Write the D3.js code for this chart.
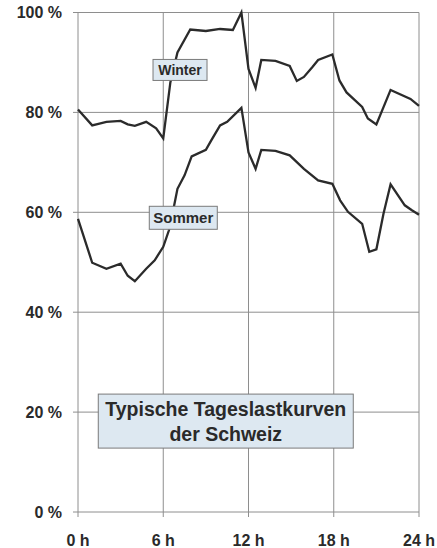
<!DOCTYPE html>
<html>
<head>
<meta charset="utf-8">
<script src="https://cdn.jsdelivr.net/npm/d3@7"></script>
<style>
  html, body { margin: 0; padding: 0; background: #fff; }
  svg { display: block; }
  text { font-family: "Liberation Sans", Arial, sans-serif; font-weight: bold; fill: #2a2a2a; }
</style>
</head>
<body>
<div id="chart"></div>
<script>
// ---- data ----
const xTicks = [0, 6, 12, 18, 24];
const xTickLabels = ["0 h", "6 h", "12 h", "18 h", "24 h"];
const yTicks = [0, 20, 40, 60, 80, 100];
const yTickLabels = ["0 %", "20 %", "40 %", "60 %", "80 %", "100 %"];

const winterHours  = [0, 1, 2, 3, 3.5, 4, 4.8, 5.5, 6, 6.5, 7, 7.9, 9, 10, 10.9, 11.5, 12, 12.5, 12.9, 13.9, 14.9, 15.4, 15.9, 16.5, 16.9, 17.9, 18.4, 18.9, 20, 20.4, 21, 22, 23.4, 24];
const winterValues = [80.6, 77.4, 78.1, 78.3, 77.6, 77.3, 78.1, 76.8, 74.8, 86.0, 92.0, 96.6, 96.3, 96.7, 96.5, 100, 88.7, 84.9, 90.5, 90.3, 89.3, 86.3, 87.1, 89.1, 90.5, 91.6, 86.4, 84.0, 81.1, 78.8, 77.6, 84.5, 82.7, 81.3];

const sommerHours  = [0, 1, 2, 3, 3.5, 4, 4.8, 5.4, 6, 6.4, 6.7, 7, 7.5, 8, 9, 9.4, 10, 10.5, 11.5, 12, 12.5, 12.9, 13.9, 14.9, 15.9, 16.9, 17.9, 18.45, 19, 20, 20.5, 21, 21.5, 22, 23, 23.5, 24];
const sommerValues = [58.7, 49.9, 48.7, 49.7, 47.3, 46.2, 48.7, 50.4, 53.1, 56.4, 60.4, 64.7, 67.4, 71.2, 72.5, 74.5, 77.4, 78.1, 80.9, 72.0, 68.7, 72.5, 72.3, 71.4, 68.7, 66.4, 65.7, 62.4, 60.1, 57.7, 52.1, 52.6, 59.7, 65.6, 61.4, 60.4, 59.5];

const seriesLabels = ["Winter", "Sommer"];
const titleLines = ["Typische Tageslastkurven", "der Schweiz"];

// ---- chart ----
const W = 437, H = 548;
const svg = d3.select("#chart").append("svg").attr("width", W).attr("height", H);
svg.append("rect").attr("width", W).attr("height", H).attr("fill", "#fff");

const x = d3.scaleLinear().domain([0, 24]).range([78, 419]);
const y = d3.scaleLinear().domain([0, 100]).range([512, 12.5]);

const gridColor = "#8e8e8e";

// horizontal grid + left ticks
svg.append("g").selectAll("line").data(yTicks).join("line")
  .attr("x1", x(0) - 5).attr("x2", x(24))
  .attr("y1", d => y(d)).attr("y2", d => y(d))
  .attr("stroke", gridColor).attr("stroke-width", 1);

// vertical grid + bottom ticks
svg.append("g").selectAll("line").data(xTicks).join("line")
  .attr("x1", d => x(d)).attr("x2", d => x(d))
  .attr("y1", y(100)).attr("y2", y(0) + 5)
  .attr("stroke", gridColor).attr("stroke-width", 1);

// y labels
svg.append("g").selectAll("text").data(yTicks).join("text")
  .attr("x", 62).attr("y", d => y(d))
  .attr("dy", "0.36em")
  .attr("text-anchor", "end")
  .attr("font-size", 16)
  .text((d, i) => yTickLabels[i]);

// x labels
svg.append("g").selectAll("text").data(xTicks).join("text")
  .attr("x", d => x(d)).attr("y", 546)
  .attr("text-anchor", "middle")
  .attr("font-size", 16)
  .text((d, i) => xTickLabels[i]);

// lines
const line = d3.line().x(d => x(d[0])).y(d => y(d[1]));
const winter = winterHours.map((h, i) => [h, winterValues[i]]);
const sommer = sommerHours.map((h, i) => [h, sommerValues[i]]);

[winter, sommer].forEach(s => {
  svg.append("path").datum(s)
    .attr("d", line)
    .attr("fill", "none")
    .attr("stroke", "#2b2b2b")
    .attr("stroke-width", 2.3)
    .attr("stroke-linejoin", "miter");
});

// label boxes
function labelBox(cx, cy, w, h, lines, fs, lh) {
  const g = svg.append("g");
  g.append("rect")
    .attr("x", cx - w / 2).attr("y", cy - h / 2)
    .attr("width", w).attr("height", h)
    .attr("fill", "#dde8f1").attr("stroke", "#7a7a7a").attr("stroke-width", 1);
  lines.forEach((t, i) => {
    g.append("text")
      .attr("x", cx)
      .attr("y", cy + (i - (lines.length - 1) / 2) * lh)
      .attr("dy", "0.36em")
      .attr("text-anchor", "middle")
      .attr("font-size", fs)
      .text(t);
  });
}

labelBox(x(7.18), y(88.5), 54, 21, [seriesLabels[0]], 14, 0);
labelBox(x(7.41), y(58.9), 68, 23, [seriesLabels[1]], 15, 0);
labelBox(x(10.4), y(18.2), 255, 54, titleLines, 19.5, 25);
</script>
</body>
</html>
